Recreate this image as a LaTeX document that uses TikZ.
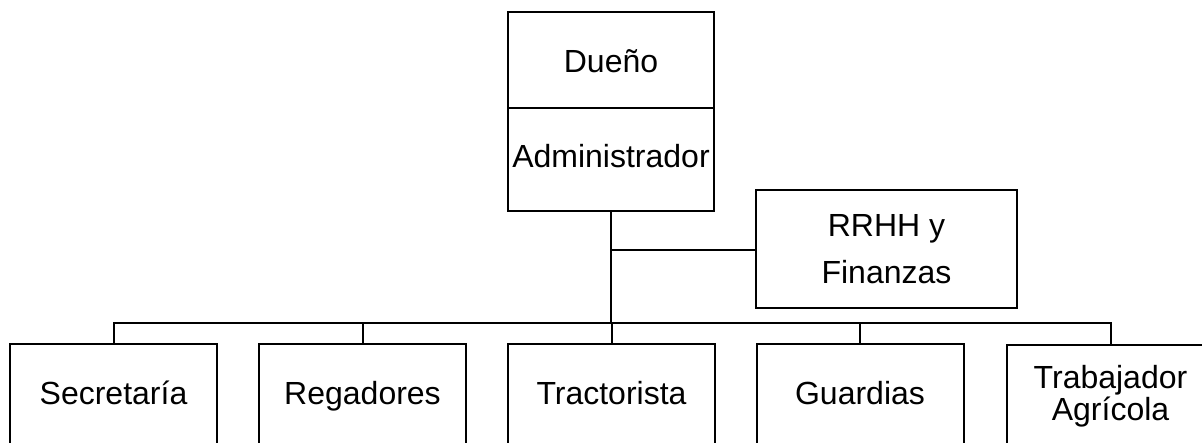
\documentclass[tikz,border=0pt]{standalone}
\usepackage{fontspec}
\setmainfont{Liberation Sans}
\begin{document}
\begin{tikzpicture}[x=1pt,y=-1pt,
  box/.style={draw=black,line width=2pt,rectangle,inner sep=0pt,outer sep=0pt,align=center,
    font=\fontsize{32}{32}\selectfont},
  oneline/.style={text height=27pt,text depth=7pt},
  bottombox/.style={box,minimum width=207pt,minimum height=102pt},
  link/.style={draw=black,line width=2pt}]
\useasboundingbox (0,0) rectangle (1202,443);
\clip (0,0) rectangle (1202,443);
\node[box,text height=30pt,text depth=5pt,minimum width=206pt,minimum height=96pt] (dueno) at (611,60) {Dueño};
\node[box,text height=24pt,text depth=7pt,minimum width=206pt,minimum height=103pt,anchor=north] (admin) at (dueno.south) {Administrador};
\node[box,minimum width=261pt,minimum height=118pt,font=\fontsize{32}{47}\selectfont] (rrhh) at (886.5,249) {RRHH y\\Finanzas};
\node[bottombox,oneline] (sec) at (113.5,395) {Secretaría};
\node[bottombox,oneline] (reg) at (362.5,395) {Regadores};
\node[bottombox,oneline] (trac) at (611.5,395) {Tractorista};
\node[bottombox,oneline] (guar) at (860,395) {Guardias};
\node[bottombox,yshift=-1pt] (trab) at (1110.5,395) {Trabajador\\Agrícola};
\coordinate (bus) at (611,323);
\coordinate (mid) at (611,250);
\draw[link] (admin.south) -- (bus);
\draw[link] (mid) -- (mid -| rrhh.west);
\draw[link] (sec.north) -- (sec.north |- bus) -- (trab.north |- bus) -- (trab.north);
\draw[link] (reg.north) -- (reg.north |- bus);
\draw[link] (trac.north) -- (trac.north |- bus);
\draw[link] (guar.north) -- (guar.north |- bus);
\end{tikzpicture}
\end{document}
